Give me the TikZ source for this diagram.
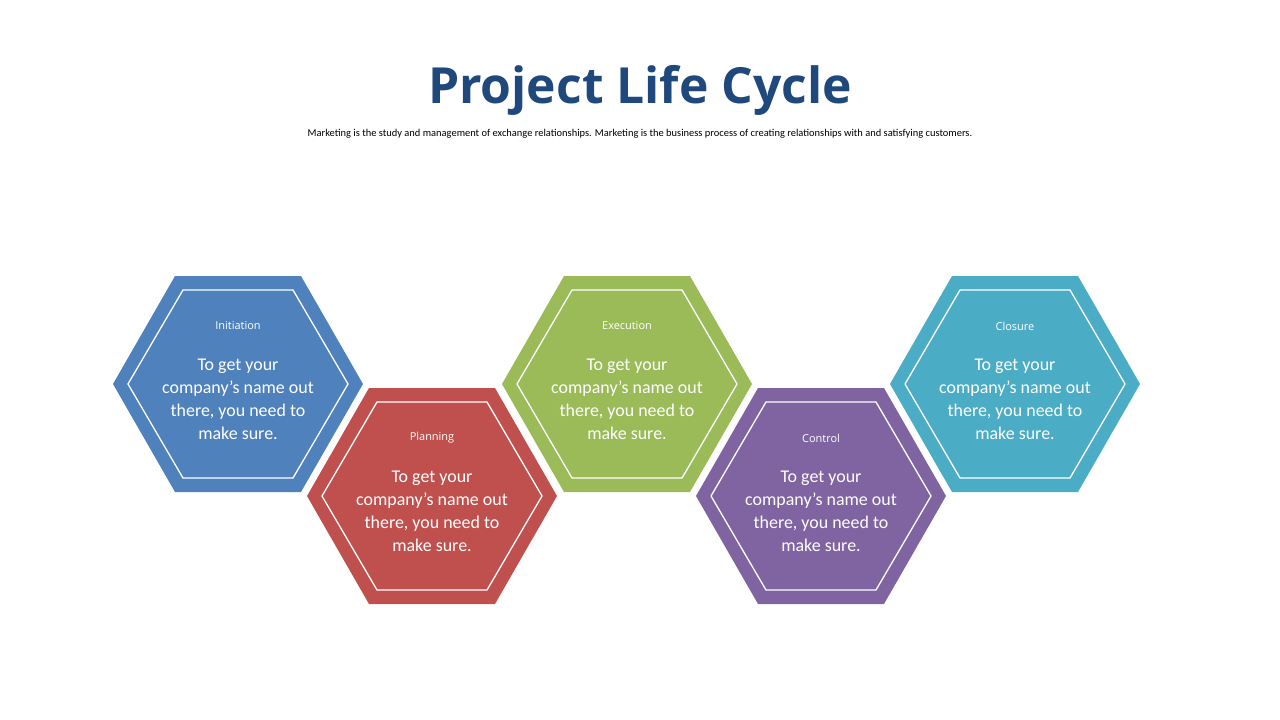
\documentclass[tikz,border=0pt]{standalone}
\usepackage{fontspec}
\setmainfont{Carlito}
\newfontfamily\titlefont{Open Sans}
\newfontfamily\labfont{Open Sans}
\begin{document}
\begin{tikzpicture}[x=1bp,y=-1bp,
  body/.style={text=white,align=center,font=\fontsize{18}{23}\selectfont},
  lab/.style={text=white,font=\labfont\fontsize{11}{13}\selectfont},
  inner/.style={draw=white,line width=1.3bp}]
\definecolor{tblue}{HTML}{1F497D}
\definecolor{cblue}{HTML}{4F81BD}
\definecolor{cred}{HTML}{C0504D}
\definecolor{cgreen}{HTML}{9BBB59}
\definecolor{cpurple}{HTML}{8064A2}
\definecolor{cteal}{HTML}{4BACC6}
\useasboundingbox (0,0) rectangle (1280,720);
\node (title) at (640,90) {\titlefont\bfseries\fontsize{50}{56}\selectfont\color{tblue}Project Life Cycle};
\node (sub) at (640,134) {\fontsize{10.5}{12}\selectfont Marketing is the study and management of exchange relationships. Marketing is the business process of creating relationships with and satisfying customers.};
\foreach \n/\cx/\cy/\col/\lbl in {h1/238/384/cblue/Initiation, h2/432/496/cred/Planning, h3/627/384/cgreen/Execution, h4/821/496/cpurple/Control, h5/1015/384/cteal/Closure}{
  \fill[\col] (\cx-125,\cy) -- (\cx-63,\cy-108) -- (\cx+63,\cy-108) -- (\cx+125,\cy) -- (\cx+63,\cy+108) -- (\cx-63,\cy+108) -- cycle;
  \draw[inner] (\cx-110,\cy) -- (\cx-55,\cy-94) -- (\cx+55,\cy-94) -- (\cx+110,\cy) -- (\cx+55,\cy+94) -- (\cx-55,\cy+94) -- cycle;
  \node[lab] (\n l) at (\cx,\cy-58) {\lbl};
  \node[body] (\n t) at (\cx,\cy+15) {To get your\\company’s name out\\there, you need to\\make sure.};
}
\end{tikzpicture}
\end{document}
